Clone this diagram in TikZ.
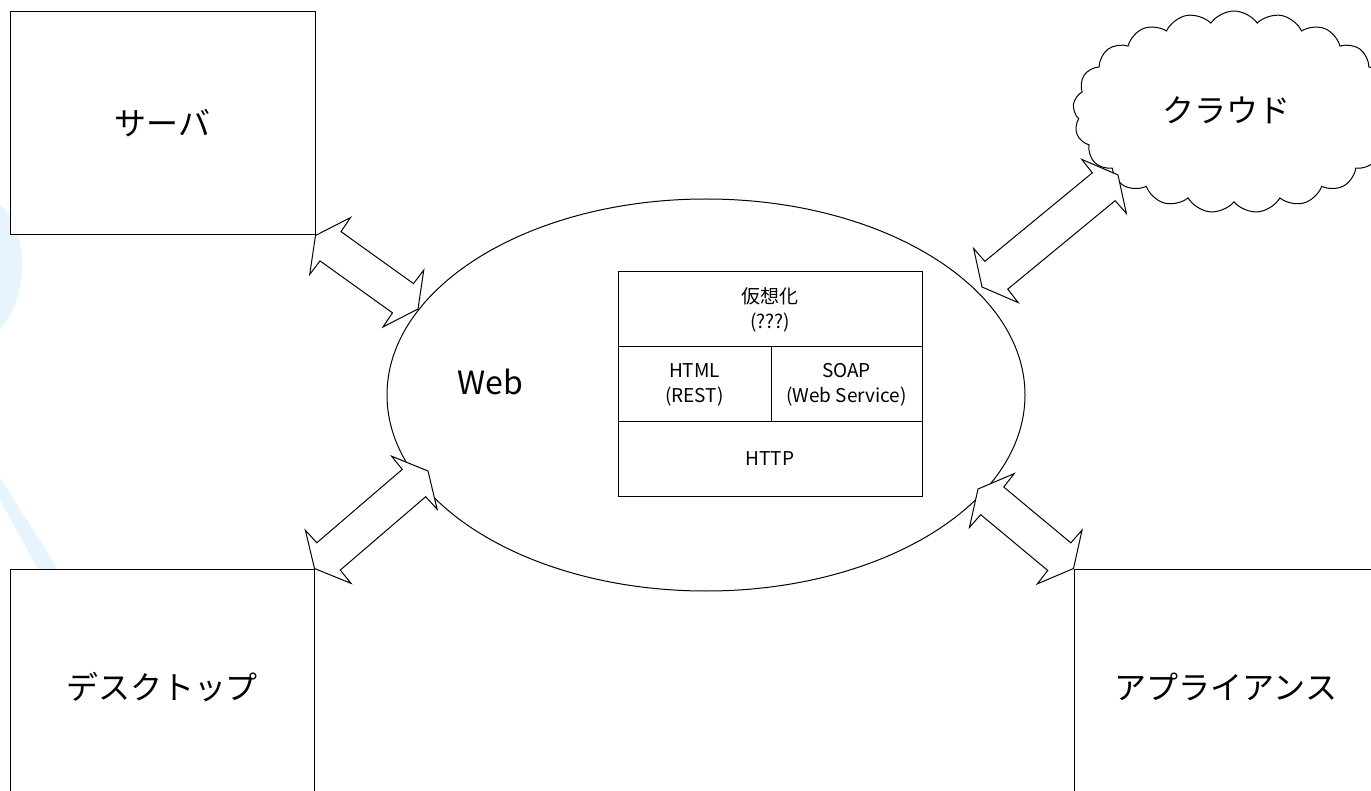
\documentclass[tikz,border=0pt]{standalone}
\usepackage{fontspec}
\setmainfont{Noto Sans CJK JP}
\usetikzlibrary{shapes.geometric,shapes.symbols,calc}
\definecolor{wm}{RGB}{230,245,253}
\newcommand{\dbarrow}[2]{%
  \draw[blockarrow] (#1)
    -- ($(#1)!18pt!(#2)!35pt!90:(#2)$)
    -- ($(#1)!18.5pt!(#2)!18pt!90:(#2)$)
    -- ($(#2)!18.5pt!(#1)!18pt!-90:(#1)$)
    -- ($(#2)!18pt!(#1)!35pt!-90:(#1)$)
    -- (#2)
    -- ($(#2)!18pt!(#1)!35pt!90:(#1)$)
    -- ($(#2)!18.5pt!(#1)!18pt!90:(#1)$)
    -- ($(#1)!18.5pt!(#2)!18pt!-90:(#2)$)
    -- ($(#1)!18pt!(#2)!35pt!-90:(#2)$)
    -- cycle;}
\begin{document}
\begin{tikzpicture}[x=1pt,y=-1pt,
  box/.style={draw=black,line width=1pt,fill=white,inner sep=0pt},
  big/.style={font=\fontsize{32}{38}\selectfont},
  small/.style={font=\fontsize{19}{25}\selectfont,align=center},
  blockarrow/.style={draw=black,line width=1pt,fill=white,line join=miter},
]
\useasboundingbox (0,0) rectangle (1371,791);
\fill[white] (0,0) rectangle (1371,791);
% faint background watermark
\fill[wm] (0,205) .. controls (14,215) and (22,240) .. (22,265) .. controls (22,295) and (12,315) .. (0,330) -- cycle;
\fill[wm] (0,478) -- (0,500) -- (38,569) -- (58,569) -- cycle;
% corner boxes
\node[box,big,minimum width=305pt,minimum height=223pt] (srv) at (162.5,123.5) {サーバ};
\node[box,big,minimum width=304pt,minimum height=236pt] (desk) at (162,687) {デスクトップ};
\node[box,big,minimum width=304pt,minimum height=236pt] (app) at (1226,687) {アプライアンス};
% cloud
\node[cloud,draw=black,line width=1pt,fill=white,cloud puffs=21,cloud puff arc=110,aspect=1.6,
      minimum width=322pt,minimum height=202pt,inner sep=0pt] (cloud) at (1234,112) {};
\node[big] (cloudt) at (1226,110) {クラウド};
% web ellipse
\node[ellipse,draw=black,line width=1pt,fill=white,minimum width=638pt,minimum height=392pt,inner sep=0pt] (web) at (706,395) {};
\node[big] (webt) at (490,382) {Web};
% protocol stack
\node[box,small,minimum width=304pt,minimum height=75pt] (virt) at (770,309.5) {仮想化\\(???)};
\node[box,small,minimum width=153pt,minimum height=75pt] (html) at (694.5,384.5) {HTML\\(REST)};
\node[box,small,minimum width=151pt,minimum height=75pt] (soap) at (846.5,384.5) {SOAP\\(Web Service)};
\node[box,small,minimum width=304pt,minimum height=74pt] (http) at (770,459) {HTTP};
% arrow end points on the ellipse and cloud
\coordinate (e1) at (418,309);
\coordinate (e2) at (428,471);
\coordinate (e3) at (978,489);
\coordinate (e4) at (982,287);
\coordinate (c1) at (1118,175);
\dbarrow{srv.south east}{e1}
\dbarrow{desk.north east}{e2}
\dbarrow{app.north west}{e3}
\dbarrow{e4}{c1}
\end{tikzpicture}
\end{document}
